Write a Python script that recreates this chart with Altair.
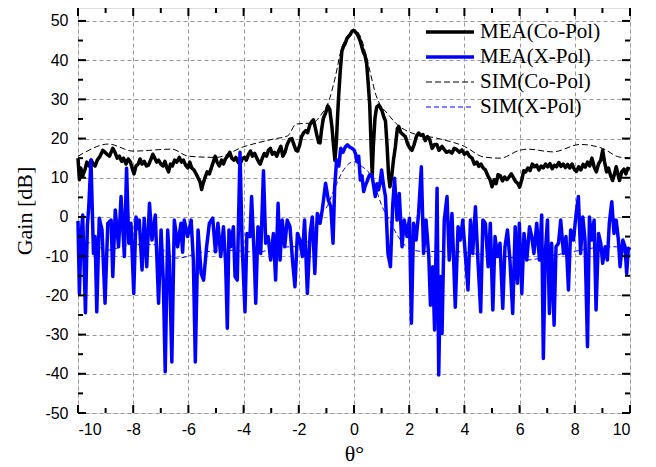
import altair as alt
import pandas as pd

# ---------------- data ----------------
mea_co_theta = [-10.0, -9.95, -9.9, -9.83, -9.75, -9.68, -9.6, -9.52, -9.45, -9.38, -9.3, -9.2, -9.1, -9.02, -8.95,
                -8.86, -8.8, -8.74, -8.66, -8.58, -8.5, -8.42, -8.35, -8.26, -8.18, -8.1, -8.02, -7.97, -7.9, -7.82,
                -7.75, -7.68, -7.6, -7.52, -7.45, -7.37, -7.29, -7.22, -7.15, -7.08, -7.0, -6.92, -6.85, -6.78, -6.72,
                -6.65, -6.58, -6.5, -6.42, -6.33, -6.25, -6.18, -6.1, -6.02, -5.95, -5.88, -5.8, -5.72, -5.65, -5.58,
                -5.52, -5.47, -5.4, -5.32, -5.24, -5.17, -5.1, -5.03, -4.96, -4.88, -4.8, -4.73, -4.66, -4.58, -4.5,
                -4.43, -4.35, -4.28, -4.2, -4.13, -4.05, -3.97, -3.9, -3.82, -3.75, -3.68, -3.6, -3.52, -3.45, -3.4,
                -3.32, -3.25, -3.17, -3.1, -3.03, -2.96, -2.88, -2.8, -2.72, -2.65, -2.58, -2.5, -2.42, -2.33, -2.25,
                -2.18, -2.1, -2.05, -1.98, -1.9, -1.82, -1.75, -1.68, -1.6, -1.53, -1.47, -1.41, -1.35, -1.28, -1.23,
                -1.17, -1.11, -1.03, -0.95, -0.88, -0.8, -0.74, -0.69, -0.64, -0.6, -0.56, -0.5, -0.44, -0.38, -0.32,
                -0.26, -0.2, -0.14, -0.08, -0.02, 0.04, 0.1, 0.16, 0.22, 0.28, 0.34, 0.4, 0.46, 0.52, 0.57,
                0.62, 0.66, 0.7, 0.76, 0.82, 0.89, 0.95, 1.02, 1.08, 1.14, 1.2, 1.25, 1.3, 1.36, 1.43,
                1.5, 1.57, 1.62, 1.7, 1.78, 1.86, 1.95, 2.03, 2.1, 2.18, 2.26, 2.34, 2.42, 2.5, 2.58,
                2.66, 2.74, 2.83, 2.92, 3.0, 3.08, 3.19, 3.27, 3.35, 3.45, 3.55, 3.63, 3.72, 3.82, 3.91,
                4.0, 4.1, 4.18, 4.28, 4.36, 4.45, 4.52, 4.6, 4.68, 4.76, 4.85, 4.93, 5.0, 5.08, 5.15,
                5.22, 5.3, 5.38, 5.46, 5.54, 5.62, 5.7, 5.78, 5.86, 5.94, 6.0, 6.08, 6.15, 6.22, 6.3,
                6.38, 6.46, 6.54, 6.62, 6.7, 6.78, 6.86, 6.94, 7.02, 7.1, 7.18, 7.26, 7.34, 7.42, 7.5,
                7.58, 7.66, 7.74, 7.82, 7.9, 7.98, 8.06, 8.14, 8.22, 8.3, 8.38, 8.46, 8.54, 8.62, 8.7,
                8.78, 8.86, 8.94, 9.01, 9.08, 9.15, 9.22, 9.3, 9.37, 9.44, 9.5, 9.56, 9.62, 9.7, 9.78,
                9.85, 9.92, 10.0]
mea_co_gain = [15.0, 9.5, 12.5, 10.5, 12.0, 14.0, 13.0, 14.5, 13.5, 13.0, 14.5, 15.5, 17.0, 16.5, 16.0,
               15.5, 16.5, 17.5, 16.5, 15.0, 15.5, 14.2, 15.0, 13.5, 14.8, 14.0, 12.0, 11.0, 13.0, 13.5,
               14.8, 13.5, 14.2, 13.0, 13.2, 14.5, 16.0, 15.0, 14.0, 14.5, 13.5, 13.0, 14.2, 12.5, 11.5,
               13.5, 13.0, 14.5, 14.0, 15.2, 14.0, 14.5, 13.2, 12.5, 14.0, 12.5, 12.0, 11.0, 10.0, 9.0,
               7.0, 8.5, 10.0, 11.5, 11.0, 12.5, 14.0, 15.5, 14.0, 13.0, 14.5, 13.5, 14.8, 15.5, 16.5,
               15.0, 14.5, 15.2, 14.0, 13.5, 14.8, 15.2, 14.5, 16.0, 16.8, 15.5, 16.2, 15.0, 14.0, 13.5,
               15.0, 16.2, 15.5, 17.0, 17.5, 16.0, 16.5, 15.5, 17.0, 18.0, 15.5, 16.5, 18.5, 19.8, 20.0,
               18.5, 17.0, 16.8, 18.0, 20.5, 21.5, 22.0, 21.5, 23.5, 24.3, 24.8, 23.0, 21.0, 19.0, 18.9,
               22.5, 25.2, 26.5, 28.3, 27.5, 23.0, 18.0, 14.4, 19.0, 25.0, 30.4, 37.0, 42.3, 43.5, 44.2,
               45.5, 46.0, 46.5, 47.3, 47.6, 47.3, 46.8, 46.0, 45.0, 43.5, 42.0, 41.2, 39.0, 33.6, 28.5,
               18.0, 10.6, 18.0, 25.2, 28.0, 28.5, 28.0, 27.0, 25.5, 24.5, 18.0, 11.0, 7.7, 10.0, 14.5,
               18.0, 22.5, 23.1, 21.5, 21.0, 20.5, 18.5, 17.5, 17.0, 18.5, 20.5, 21.4, 20.8, 21.0, 19.5,
               20.5, 19.8, 17.5, 18.5, 18.5, 17.0, 18.0, 17.2, 16.5, 16.8, 16.3, 17.5, 17.2, 16.5, 17.1,
               16.0, 16.5, 15.5, 15.0, 13.5, 14.0, 12.9, 13.5, 12.5, 12.0, 10.5, 9.5, 7.7, 9.5, 8.5,
               10.8, 10.5, 9.2, 10.2, 9.5, 10.2, 11.0, 10.0, 9.0, 8.5, 7.6, 9.5, 11.8, 11.5, 12.5,
               11.8, 13.5, 12.8, 13.2, 12.0, 13.0, 12.5, 13.5, 12.8, 13.6, 12.3, 13.2, 12.8, 13.9, 12.9,
               13.5, 12.6, 13.4, 12.5, 13.5, 12.2, 11.6, 12.8, 12.0, 13.4, 12.7, 14.0, 13.0, 15.0, 12.8,
               11.5, 13.5, 14.5, 17.0, 14.0, 11.5, 12.5, 10.5, 9.3, 11.0, 12.8, 11.0, 9.3, 11.5, 12.2,
               11.0, 12.4, 12.2]

mea_x_theta = [-10.0, -9.95, -9.89, -9.83, -9.73, -9.66, -9.61, -9.53, -9.44, -9.38, -9.32, -9.23, -9.13, -9.02,
               -8.92, -8.8, -8.74, -8.65, -8.53, -8.44, -8.32, -8.24, -8.16, -8.08, -7.98, -7.9, -7.84, -7.78,
               -7.68, -7.6, -7.51, -7.41, -7.32, -7.2, -7.08, -6.99, -6.91, -6.84, -6.75, -6.69, -6.6, -6.51,
               -6.45, -6.39, -6.27, -6.21, -6.15, -6.03, -5.9, -5.82, -5.75, -5.65, -5.54, -5.45, -5.34, -5.24,
               -5.12, -5.02, -4.93, -4.83, -4.73, -4.65, -4.59, -4.53, -4.47, -4.37, -4.31, -4.23, -4.13, -4.05,
               -3.95, -3.88, -3.77, -3.71, -3.62, -3.56, -3.48, -3.38, -3.28, -3.2, -3.11, -3.02, -2.92, -2.84,
               -2.75, -2.68, -2.6, -2.51, -2.42, -2.32, -2.22, -2.14, -2.05, -1.96, -1.87, -1.79, -1.69, -1.59,
               -1.51, -1.42, -1.33, -1.23, -1.15, -1.03, -0.93, -0.84, -0.76, -0.7, -0.63, -0.55, -0.48, -0.4,
               -0.32, -0.24, -0.15, -0.07, 0.0, 0.06, 0.11, 0.17, 0.23, 0.29, 0.35, 0.41, 0.47, 0.56,
               0.65, 0.71, 0.77, 0.83, 0.89, 0.95, 1.0, 1.07, 1.14, 1.23, 1.32, 1.4, 1.47, 1.56,
               1.64, 1.74, 1.82, 1.92, 2.01, 2.08, 2.16, 2.25, 2.34, 2.44, 2.52, 2.61, 2.71, 2.77,
               2.85, 2.92, 3.01, 3.07, 3.13, 3.19, 3.27, 3.37, 3.45, 3.55, 3.67, 3.77, 3.85, 3.94,
               4.03, 4.13, 4.22, 4.3, 4.4, 4.49, 4.59, 4.67, 4.76, 4.86, 4.94, 5.03, 5.11, 5.2,
               5.29, 5.39, 5.47, 5.56, 5.65, 5.75, 5.84, 5.92, 5.99, 6.08, 6.16, 6.26, 6.36, 6.44,
               6.52, 6.62, 6.72, 6.8, 6.86, 6.93, 7.01, 7.08, 7.16, 7.25, 7.32, 7.41, 7.49, 7.59,
               7.68, 7.77, 7.85, 7.95, 8.05, 8.13, 8.21, 8.29, 8.37, 8.46, 8.53, 8.61, 8.7, 8.77,
               8.86, 8.94, 9.01, 9.1, 9.18, 9.25, 9.34, 9.42, 9.5, 9.58, 9.64, 9.74, 9.82, 9.88,
               9.94, 10.0]
mea_x_gain = [-1.0, -19.5, -5.0, 0.5, -24.4, -2.0, 2.6, 14.5, -9.3, -5.0, -24.2, -0.3, -3.3, -22.0,
              -1.6, -0.8, -15.2, 1.8, -7.6, 5.2, -10.1, 12.4, -6.7, -1.6, -19.5, 0.0, -3.0, -0.8,
              -13.5, -0.3, -12.7, 3.5, -5.9, 0.5, -22.0, -3.3, -16.1, -39.5, -3.3, -11.0, -37.0, -0.8,
              -4.0, -7.6, -1.6, -9.0, -0.8, -5.0, -0.8, -11.0, -37.0, -3.3, -14.4, -16.1, -7.6, -1.6,
              -0.3, -8.9, -1.6, -10.1, -2.5, -12.0, -28.4, -3.3, -7.6, -2.5, -15.2, -16.1, 16.5, -7.6,
              -24.2, -4.2, -5.0, 5.2, -9.3, -22.0, -2.5, -9.3, 11.8, -6.7, -5.0, -11.0, -4.2, -16.1,
              3.5, -11.0, -0.8, -7.6, -0.8, -2.5, -11.8, -17.8, -4.2, -5.9, -10.1, -0.8, -19.5, -4.2,
              0.0, -14.4, 0.9, -1.6, 1.8, 8.6, 4.3, 2.6, -6.7, 7.7, 14.5, 13.0, 17.5, 16.5,
              17.8, 18.4, 17.8, 17.5, 17.1, 16.0, 14.1, 15.5, 9.4, 10.5, 6.5, 8.0, 9.0, 10.7,
              10.7, 8.0, 5.2, 8.5, 6.9, 9.0, 12.0, 8.0, 5.2, -9.3, -12.7, 2.6, 9.9, -0.8,
              6.0, -7.6, -0.8, -5.0, -0.3, -27.1, -1.6, -5.9, 0.9, 12.8, -9.3, -0.8, -10.1, -22.5,
              -12.7, -28.8, 7.3, -40.3, -15.2, -29.7, -0.8, 5.2, -11.0, 0.9, -23.0, -2.5, -5.9, -0.8,
              -9.3, -18.6, -0.8, -9.3, 2.6, -11.0, -24.2, -0.8, -1.6, -12.7, -1.6, -23.7, -5.0, -10.1,
              -6.7, -23.3, -7.6, -3.3, -11.0, -24.6, -2.5, -16.9, -1.6, -19.5, -4.2, -11.0, -2.5, -5.0,
              -9.3, -1.6, -11.0, 0.5, -36.1, -9.3, -0.8, -24.6, -6.7, -27.6, -7.6, -6.7, -0.8, -9.3,
              -5.0, -18.6, -3.3, -5.9, 0.9, 5.2, -9.3, 0.0, -5.9, -33.1, 0.0, -5.9, -0.8, -23.7,
              -4.2, -6.7, -11.8, -7.6, -11.0, -1.6, 3.9, -4.2, -0.8, -5.9, -12.7, -5.9, -7.6, -14.4,
              -8.0, -8.4]

sim_co_theta = [-10.0, -9.8, -8.9, -8.0, -6.6, -6.0, -5.0, -4.0, -2.9, -2.4, -2.1, -1.5, -1.2, -0.9, -0.7,
                -0.45, -0.2, 0.0, 0.2, 0.45, 0.6, 0.8, 0.95, 1.2, 1.5, 2.1, 3.0, 4.0, 4.7, 5.3,
                6.0, 6.3, 7.2, 8.2, 9.0, 9.6, 10.0]
sim_co_gain = [15.5, 16.3, 18.6, 16.8, 17.3, 15.5, 15.2, 17.9, 19.9, 20.7, 23.7, 24.0, 26.0, 29.8, 35.0,
               43.0, 46.5, 47.8, 46.5, 41.0, 36.5, 31.0, 28.6, 26.5, 24.0, 21.4, 20.1, 18.0, 15.3, 15.0,
               17.0, 17.3, 16.6, 18.5, 17.5, 15.3, 15.0]

sim_x_theta = [-10.0, -9.5, -9.0, -8.0, -7.3, -6.4, -5.5, -4.5, -3.5, -2.7, -2.2, -1.6, -1.23, -0.98, -0.8,
               -0.42, -0.2, 0.0, 0.3, 0.55, 0.8, 1.0, 1.3, 1.6, 2.0, 2.5, 3.6, 4.5, 5.5, 6.2,
               7.3, 8.2, 9.1, 9.5, 10.0]
sim_x_gain = [-8.0, -6.5, -8.5, -7.0, -7.0, -10.5, -9.0, -8.5, -9.0, -7.7, -7.6, -5.9, 0.9, 2.6, 5.6,
              11.5, 13.5, 14.1, 12.8, 11.2, 7.0, 3.0, -1.0, -5.0, -8.0, -8.8, -8.8, -9.5, -10.0, -11.0,
              -9.7, -8.5, -7.6, -7.6, -8.0]

series_names = ["MEA(Co-Pol)", "MEA(X-Pol)", "SIM(Co-Pol)", "SIM(X-Pol)"]
series_colors = ["#000000", "#0000ff", "#000000", "#0000ff"]
series_dash = [[1, 0], [1, 0], [6, 3], [5, 3]]
series_width = [3.5, 3.5, 1, 1]

x_major = list(range(-10, 11, 2))
x_minor = list(range(-9, 10, 2))
y_major = list(range(-50, 51, 10))
y_minor = list(range(-45, 46, 10))

# ---------------- build tables ----------------
frames = []
for name, th, g in zip(series_names,
                       [mea_co_theta, mea_x_theta, sim_co_theta, sim_x_theta],
                       [mea_co_gain, mea_x_gain, sim_co_gain, sim_x_gain]):
    frames.append(pd.DataFrame({"theta": th, "gain": g, "series": name}))
df = pd.concat(frames, ignore_index=True)

W, H = 552, 405
XDOM = [-10, 10]
YDOM = [-50, 53.3]

xscale = alt.Scale(domain=XDOM, nice=False, zero=False)
yscale = alt.Scale(domain=YDOM, nice=False, zero=False)

x_axis = alt.Axis(values=x_major, grid=True, gridColor="#999999", gridDash=[4, 3], gridWidth=1,
                  ticks=False, tickSize=0, domain=False, labelFont="Liberation Sans", labelFontSize=16,
                  labelColor="black", labelPadding=8, labelExpr="'' + datum.value",
                  title="θ°", titleFont="Liberation Serif", titleFontSize=22, titleFontWeight="normal",
                  titleColor="black", titlePadding=6)
y_axis = alt.Axis(values=y_major, grid=True, gridColor="#999999", gridDash=[4, 3], gridWidth=1,
                  ticks=False, tickSize=0, domain=False, labelFont="Liberation Sans", labelFontSize=16,
                  labelColor="black", labelPadding=10, labelExpr="'' + datum.value",
                  title="Gain [dB]", titleFont="Liberation Serif", titleFontSize=22, titleFontWeight="normal",
                  titleColor="black", titlePadding=8)

X = alt.X("theta:Q", scale=xscale, axis=x_axis)
Y = alt.Y("gain:Q", scale=yscale, axis=y_axis)

base = alt.Chart(df)


def series_layer(i, interp):
    name = series_names[i]
    return base.transform_filter(alt.datum.series == name).mark_line(
        strokeJoin="round", strokeCap="butt", interpolate=interp,
        color=series_colors[i], strokeDash=series_dash[i], strokeWidth=series_width[i]
    ).encode(x=X, y=Y, order="theta:Q")


lines = [series_layer(0, "linear"),
         series_layer(1, "linear"),
         series_layer(2, "monotone"),
         series_layer(3, "monotone")]

# ---------------- inward ticks ----------------
MAJ, MIN = 8, 5
ticks = []
for vals, ln in [(x_major, MAJ), (x_minor, MIN)]:
    d = pd.DataFrame({"theta": vals})
    ticks.append(alt.Chart(d).mark_rule(color="black", strokeWidth=2).encode(
        x=X, y=alt.value(H), y2=alt.value(H - ln)))
    ticks.append(alt.Chart(d).mark_rule(color="black", strokeWidth=2).encode(
        x=X, y=alt.value(0), y2=alt.value(ln)))
for vals, ln in [(y_major, MAJ), (y_minor, MIN)]:
    d = pd.DataFrame({"gain": vals})
    ticks.append(alt.Chart(d).mark_rule(color="black", strokeWidth=2).encode(
        y=Y, x=alt.value(0), x2=alt.value(ln)))
    ticks.append(alt.Chart(d).mark_rule(color="black", strokeWidth=2).encode(
        y=Y, x=alt.value(W), x2=alt.value(W - ln)))

# ---------------- legend (inside, top right) ----------------
LEG_X1, LEG_X2, LEG_TX, LEG_Y0, LEG_DY = 348, 396, 402, 24, 25
legend_layers = []
for i, name in enumerate(series_names):
    d = pd.DataFrame({"series": [name]})
    ly = LEG_Y0 + LEG_DY * i
    legend_layers.append(alt.Chart(d).mark_rule(
        color=series_colors[i], strokeDash=series_dash[i], strokeWidth=series_width[i]
    ).encode(x=alt.value(LEG_X1), x2=alt.value(LEG_X2), y=alt.value(ly)))
    legend_layers.append(alt.Chart(d).mark_text(
        align="left", baseline="middle", font="Liberation Serif", fontSize=21, color="black"
    ).encode(x=alt.value(LEG_TX), y=alt.value(ly), text="series:N"))

chart = alt.layer(
    *lines, *ticks, *legend_layers
).properties(
    width=W, height=H,
    autosize=alt.AutoSizeParams(type="none"),
    padding={"left": 70, "top": 0, "right": 18, "bottom": 54},
).configure_view(
    stroke="black", strokeWidth=2
).configure(background="white")

chart.save("out.html", embed_options={"renderer": "svg", "actions": False})
